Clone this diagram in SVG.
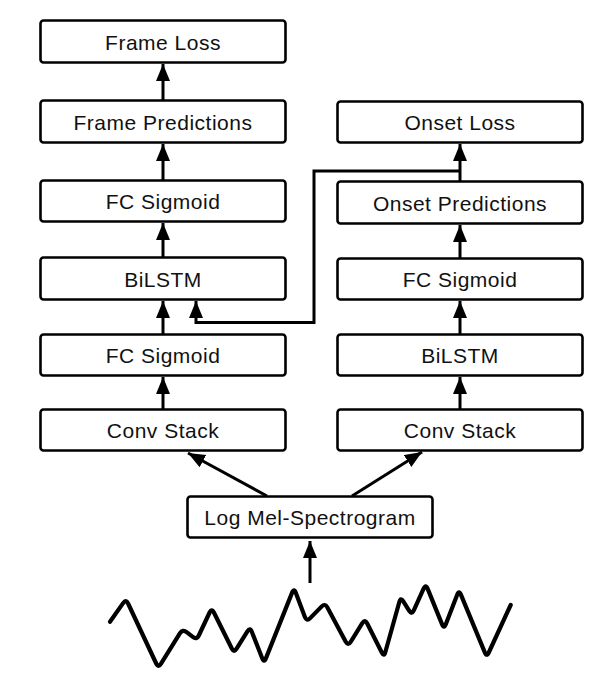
<svg xmlns="http://www.w3.org/2000/svg" width="600" height="676" viewBox="0 0 600 676">
<style>
.box{fill:#fff;stroke:#000;stroke-width:2.6}
.lbl{font-family:"Liberation Sans",Arial,sans-serif;font-size:21px;text-anchor:middle;fill:#111;letter-spacing:0.5px}
.con{fill:none;stroke:#000;stroke-width:3}
.wave{fill:none;stroke:#000;stroke-width:4.2;stroke-linejoin:round;stroke-linecap:round}
</style>
<defs>
<marker id="ah" markerUnits="userSpaceOnUse" markerWidth="18" markerHeight="15" refX="17" refY="7" orient="auto">
<path d="M0,0 L17,7 L0,14 z" fill="#000"/>
</marker>
</defs>
<rect width="600" height="676" fill="#fff"/>
<g id="frame-loss"><rect class="box" x="40.5" y="20.5" width="245" height="42" rx="3"/><text class="lbl" x="163" y="49.5">Frame Loss</text></g>
<g id="frame-predictions"><rect class="box" x="40.5" y="100.5" width="245" height="42" rx="3"/><text class="lbl" x="163" y="129.5">Frame Predictions</text></g>
<g id="frame-fc-sigmoid-top"><rect class="box" x="40.5" y="180.5" width="245" height="41" rx="3"/><text class="lbl" x="163" y="208.5">FC Sigmoid</text></g>
<g id="frame-bilstm"><rect class="box" x="40.5" y="257.5" width="245" height="42" rx="3"/><text class="lbl" x="163" y="286.5">BiLSTM</text></g>
<g id="frame-fc-sigmoid-bottom"><rect class="box" x="40.5" y="334.5" width="245" height="41" rx="3"/><text class="lbl" x="163" y="362.5">FC Sigmoid</text></g>
<g id="frame-conv-stack"><rect class="box" x="40.5" y="409.5" width="245" height="41" rx="3"/><text class="lbl" x="163" y="437.5">Conv Stack</text></g>
<g id="onset-loss"><rect class="box" x="337.5" y="101.5" width="245" height="41" rx="3"/><text class="lbl" x="460" y="129.5">Onset Loss</text></g>
<g id="onset-predictions"><rect class="box" x="337.5" y="181.5" width="245" height="42" rx="3"/><text class="lbl" x="460" y="210.5">Onset Predictions</text></g>
<g id="onset-fc-sigmoid"><rect class="box" x="337.5" y="258.5" width="245" height="41" rx="3"/><text class="lbl" x="460" y="286.5">FC Sigmoid</text></g>
<g id="onset-bilstm"><rect class="box" x="337.5" y="334.5" width="245" height="41" rx="3"/><text class="lbl" x="460" y="362.5">BiLSTM</text></g>
<g id="onset-conv-stack"><rect class="box" x="337.5" y="409.5" width="245" height="41" rx="3"/><text class="lbl" x="460" y="437.5">Conv Stack</text></g>
<g id="log-mel"><rect class="box" x="187.5" y="496.5" width="245" height="41" rx="3"/><text class="lbl" x="310" y="524.5">Log Mel-Spectrogram</text></g>
<g id="connectors">
<path class="con" marker-end="url(#ah)" d="M163,100 V64"/>
<path class="con" marker-end="url(#ah)" d="M163,180 V144"/>
<path class="con" marker-end="url(#ah)" d="M163,257 V223"/>
<path class="con" marker-end="url(#ah)" d="M163,334 V301"/>
<path class="con" marker-end="url(#ah)" d="M163,409 V377"/>
<path class="con" marker-end="url(#ah)" d="M460,181 V144"/>
<path class="con" marker-end="url(#ah)" d="M460,258 V225"/>
<path class="con" marker-end="url(#ah)" d="M460,334 V301"/>
<path class="con" marker-end="url(#ah)" d="M460,409 V377"/>
<path class="con" marker-end="url(#ah)" d="M460,171 H314 V322.5 H196 V301"/>
<path class="con" marker-end="url(#ah)" d="M267,496 L188,453"/>
<path class="con" marker-end="url(#ah)" d="M352,496 L422,452"/>
<path class="con" marker-end="url(#ah)" d="M310,583 V541"/>
</g>
<g id="waveform">
<path class="wave" d="M110,621.7 L123.1,603.1 Q126,599 128.1,603.5 L156.2,663.5 Q158.3,668 160.9,663.8 L180,633.2 Q182.7,629 186.6,632.1 L192.8,636.9 Q196.7,640 198.8,635.5 L209.6,612.5 Q211.7,608 213.9,612.5 L231.8,648.5 Q234,653 236.6,648.7 L247.4,631.3 Q250,627 251.8,631.7 L262.2,658.3 Q264,663 265.9,658.4 L292.1,592.6 Q294,588 295.8,592.7 L304.9,617 Q306.7,621.7 310.2,618.1 L321.5,606.6 Q325,603 327.4,607.4 L345.6,641.6 Q348,646 350.7,641.8 L362.3,623.2 Q365,619 367.2,623.5 L381.8,652.5 Q384,657 385.3,652.2 L399.4,601.8 Q400.7,597 403.3,601.3 L409.1,610.7 Q411.7,615 413.8,610.4 L423.6,588.6 Q425.7,584 427.6,588.6 L442.1,624.4 Q444,629 445.8,624.3 L457.2,594.7 Q459,590 460.9,594.6 L484.8,652.4 Q486.7,657 488.8,652.5 L510.7,605"/>
</g>
</svg>
